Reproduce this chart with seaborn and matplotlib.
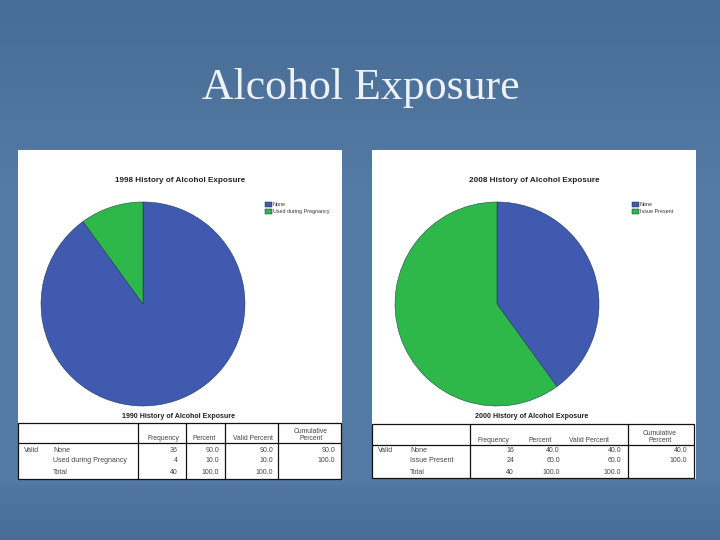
import numpy as np
import matplotlib
matplotlib.use("Agg")
import matplotlib.pyplot as plt
from matplotlib.patches import Rectangle
import seaborn as sns

sns.set_theme(style="white")
plt.rcParams['font.family'] = ['Liberation Sans', 'DejaVu Sans']

# ---- data ----
slide_title = "Alcohol Exposure"
title_a = "1998 History of Alcohol Exposure"
title_b = "2008 History of Alcohol Exposure"
table_title_a = "1990 History of Alcohol Exposure"
table_title_b = "2000 History of Alcohol Exposure"
labels_a = ["None", "Used during Pregnancy"]
labels_b = ["None", "Issue Present"]
freq_a = [36, 4]
freq_b = [16, 24]
headers = ["Frequency", "Percent", "Valid Percent", "Cumulative\nPercent"]
rows_a = [["Valid", "None", "36", "90.0", "90.0", "90.0"],
          ["", "Used during Pregnancy", "4", "10.0", "10.0", "100.0"],
          ["", "Total", "40", "100.0", "100.0", ""]]
rows_b = [["Valid", "None", "16", "40.0", "40.0", "40.0"],
          ["", "Issue Present", "24", "60.0", "60.0", "100.0"],
          ["", "Total", "40", "100.0", "100.0", ""]]
colors = ["#3f5aae", "#2fb84a"]
BG = "#4a6f98"
W, H = 720, 540

fig = plt.figure(figsize=(7.2, 5.4), dpi=100, facecolor=BG)
pal = sns.color_palette(colors)

# full-figure pixel overlay
ov = fig.add_axes([0, 0, 1, 1], zorder=1)
ov.set_xlim(0, W); ov.set_ylim(H, 0); ov.axis("off")

# soft background shading: darker at top and bottom, lighter through the middle
yy = np.linspace(0, 1, 108).reshape(-1, 1)
shade = np.minimum(np.clip(yy / 0.35, 0, 1), np.clip((1 - yy) / 0.12, 0, 1))
ov.imshow(shade, extent=[0, W, H, 0], aspect="auto", zorder=0,
          cmap=sns.blend_palette(["#476d97", "#557ba5"], as_cmap=True))
ov.set_xlim(0, W); ov.set_ylim(H, 0)

ov.text(361, 88, slide_title, family="Liberation Serif", fontsize=31.6,
        color="#eef2f6", ha="center", va="center", zorder=5)


def panel(px0, cx, values, labels, title, ttitle, title_x, ttitle_x, rows, legx,
          tbl_x0, tbl_x1, tbl_top, tbl_head, tbl_bot, vlines, rights, heads, label_x, leg_top):
    ov.add_patch(Rectangle((px0, 150), 324, 329, fc="white", ec="none", zorder=1))
    R = 102
    ax = fig.add_axes([(cx - R) / W, 1 - (304 + R) / H, 2 * R / W, 2 * R / H], zorder=2)
    wedges, _ = ax.pie(values, colors=pal, startangle=90, counterclock=False, radius=1,
                       wedgeprops=dict(edgecolor="#1d2f55", linewidth=0.35))
    ax.set_xlim(-1, 1); ax.set_ylim(-1, 1)
    ov.text(title_x, 180, title, fontsize=5.9, fontweight="bold", color="#222222",
            ha="center", va="center", zorder=5)
    ov.text(ttitle_x, 416, ttitle, fontsize=5.1, fontweight="bold", color="#222222",
            ha="center", va="center", zorder=5)
    # legend
    lax = fig.add_axes([0, 0, 1, 1], zorder=3)
    lax.axis("off")
    lax.legend(wedges, labels, loc="upper left",
               bbox_to_anchor=(legx / W, 1 - leg_top / H), bbox_transform=fig.transFigure,
               frameon=False, fontsize=3.9, handlelength=1.25, handleheight=1.25,
               handletextpad=0.15, labelspacing=0.25, borderpad=0, borderaxespad=0,
               labelcolor="#333333")
    # table
    ov.add_patch(Rectangle((tbl_x0, tbl_top), tbl_x1 - tbl_x0, tbl_bot - tbl_top, fc="none",
                           ec="#111111", lw=0.9, zorder=4))
    ov.plot([tbl_x0, tbl_x1], [tbl_head, tbl_head], color="#111111", lw=0.9, zorder=4)
    for v in vlines:
        ov.plot([v, v], [tbl_top, tbl_bot], color="#111111", lw=0.9, zorder=4)
    tc = "#444444"
    for h, hx, r in zip(headers, heads, rights):
        ov.text(hx, tbl_head - 1.5, h, fontsize=4.9, color=tc, ha="center", va="bottom",
                linespacing=0.95, zorder=5)
    for row, y in zip(rows, [450, 461, 472]):
        ov.text(label_x[0], y, row[0], fontsize=5.0, color=tc, ha="left", va="center", zorder=5)
        ov.text(label_x[1], y, row[1], fontsize=5.0, color=tc, ha="left", va="center", zorder=5)
        for val, rx in zip(row[2:], rights):
            ov.text(rx, y, val, fontsize=5.0, color=tc, ha="right", va="center", zorder=5)


panel(18, 143, freq_a, labels_a, title_a, table_title_a, 180, 178, rows_a, 265,
      18, 341, 423, 443, 479, [138, 186, 225, 278], [178, 219, 273, 335],
      [163, 204, 253, 311], (24, 53), 201.5)
panel(372, 497, freq_b, labels_b, title_b, table_title_b, 534, 532, rows_b, 632,
      372, 694, 424, 445, 478, [470, 628], [514, 560, 621, 687],
      [493, 540, 589, 660], (378, 410), 201.5)

fig.savefig("out.png", dpi=100, facecolor=BG)
